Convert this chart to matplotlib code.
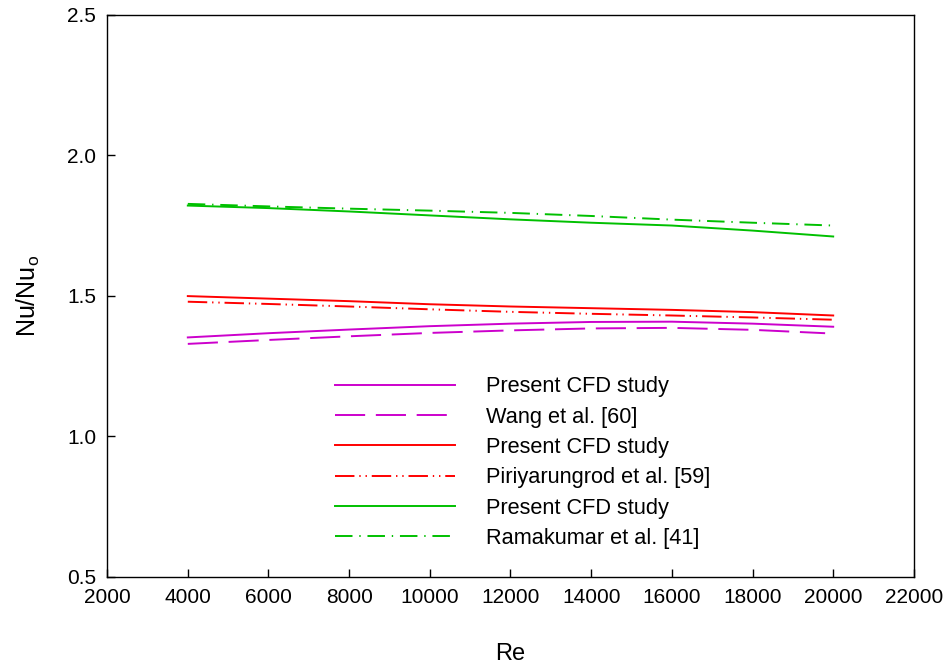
import matplotlib
matplotlib.use("Agg")
import matplotlib.pyplot as plt

plt.rcParams['font.family'] = ['Liberation Sans', 'DejaVu Sans']

# Reynolds numbers
re = [4000, 6000, 8000, 10000, 12000, 14000, 16000, 18000, 20000]
re_wang = [4000, 6000, 8000, 10000, 12000, 14000, 16000, 18000, 19800]

# Nu/Nu0 values
cfd_wang = [1.352, 1.367, 1.380, 1.392, 1.401, 1.407, 1.408, 1.401, 1.390]
wang = [1.329, 1.343, 1.356, 1.368, 1.377, 1.384, 1.386, 1.379, 1.367]
cfd_piri = [1.499, 1.490, 1.481, 1.470, 1.462, 1.456, 1.450, 1.442, 1.430]
piri = [1.479, 1.471, 1.462, 1.452, 1.443, 1.436, 1.430, 1.423, 1.415]
cfd_rama = [1.821, 1.812, 1.800, 1.786, 1.772, 1.760, 1.750, 1.732, 1.711]
rama = [1.827, 1.818, 1.810, 1.803, 1.795, 1.784, 1.771, 1.760, 1.750]

labels = ["Present CFD study", "Wang et al. [60]",
          "Present CFD study", "Piriyarungrod et al. [59]",
          "Present CFD study", "Ramakumar et al. [41]"]

xticks = list(range(2000, 22001, 2000))
yticks = [0.5, 1.0, 1.5, 2.0, 2.5]

magenta = '#CC00CC'
red = '#FF0000'
green = '#00C000'

fig = plt.figure(figsize=(9.48, 6.67), dpi=100)
ax = fig.add_axes([0.113, 0.135, 0.851, 0.843])

lw = 1.4
ax.plot(re, cfd_wang, color=magenta, lw=lw, label=labels[0])
ax.plot(re_wang, wang, color=magenta, lw=lw, dashes=(15.5, 5.5), label=labels[1])
ax.plot(re, cfd_piri, color=red, lw=lw, label=labels[2])
ax.plot(re, piri, color=red, lw=lw, dashes=(10, 2.5, 0.7, 2.5, 0.7, 2.5), label=labels[3])
ax.plot(re, cfd_rama, color=green, lw=lw, label=labels[4])
ax.plot(re, rama, color=green, lw=lw, dashes=(9, 3.5, 0.7, 3.5), label=labels[5])

ax.set_xlim(2000, 22000)
ax.set_ylim(0.5, 2.5)
ax.set_xticks(xticks)
ax.set_yticks(yticks)
ax.set_yticklabels([f"{v:.1f}" for v in yticks])
ax.tick_params(direction='in', length=6, width=1, labelsize=15,
               top=False, right=False, pad=8)
for s in ax.spines.values():
    s.set_linewidth(1.0)

ax.set_xlabel("Re", fontsize=17, labelpad=26)
ax.set_ylabel(r"Nu/Nu$_\mathregular{o}$", fontsize=18, labelpad=18)

ax.legend(loc='upper left', bbox_to_anchor=(0.258, 0.392), frameon=False,
          fontsize=15.7, handlelength=5.5, handletextpad=1.45,
          labelspacing=0.43)

fig.savefig("out.png", dpi=100)
